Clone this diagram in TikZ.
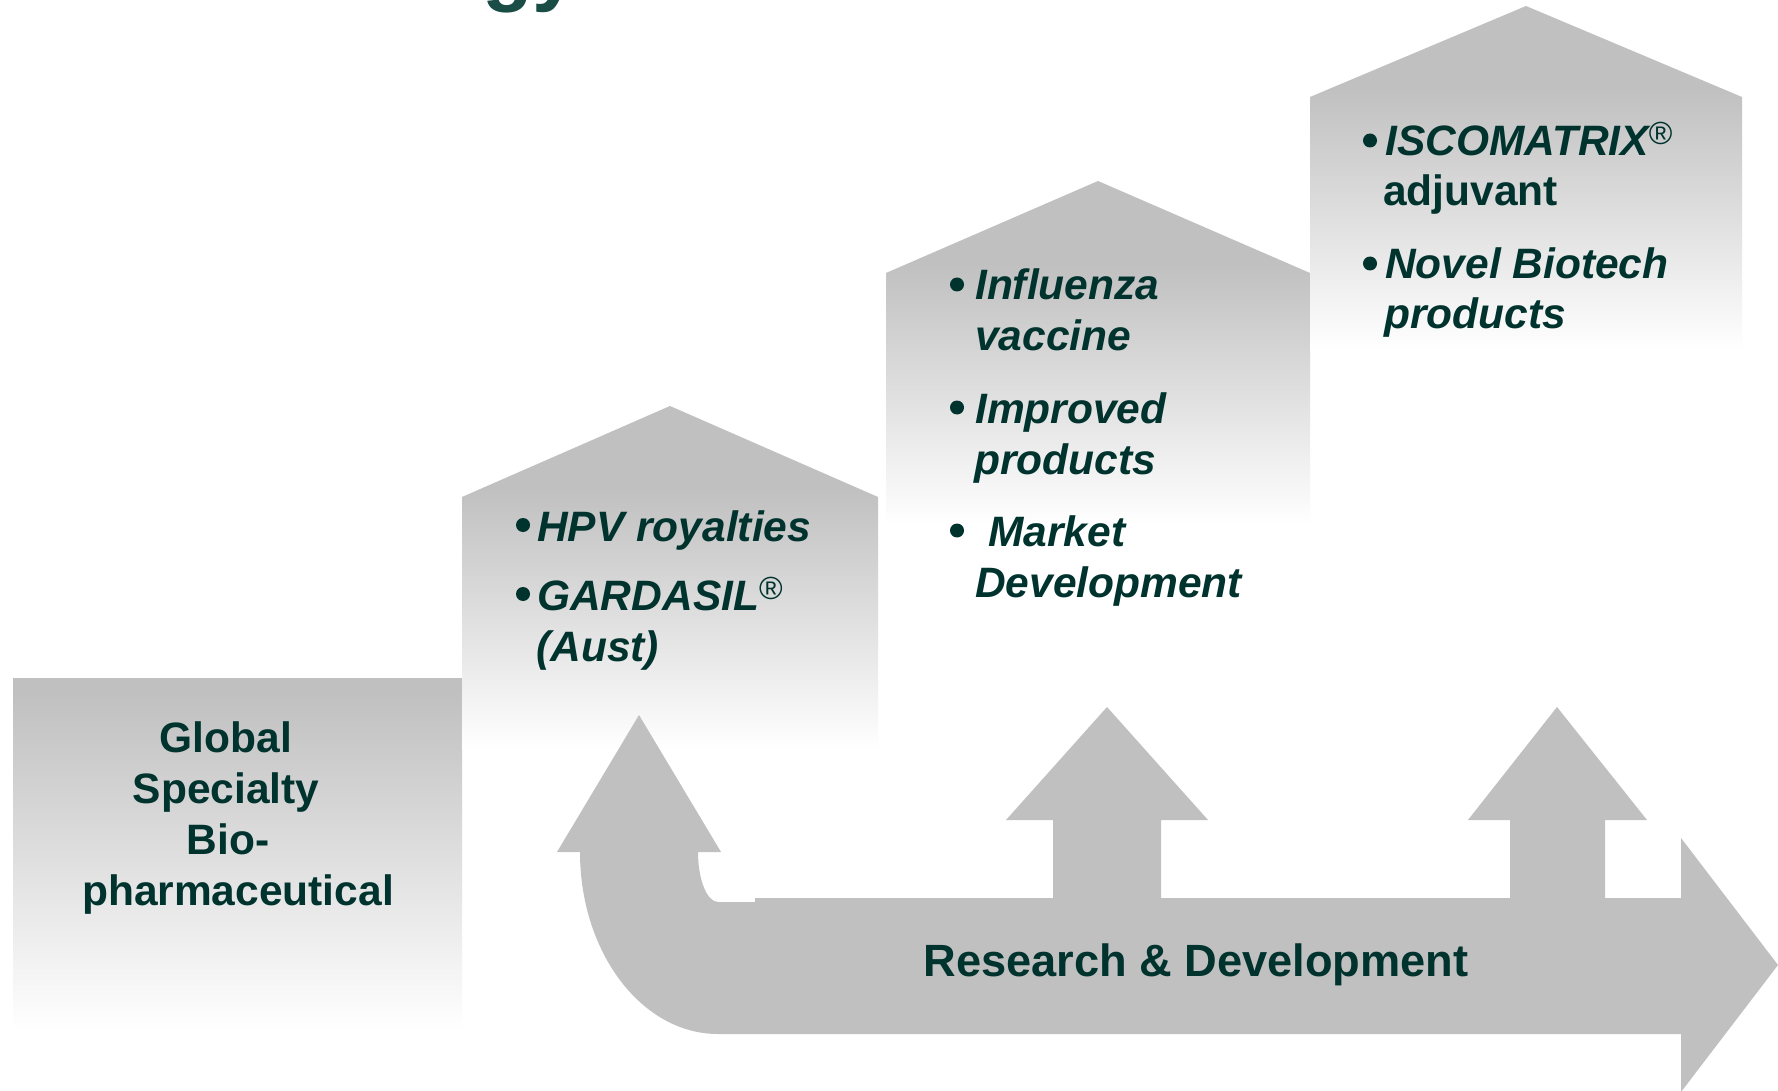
\documentclass[tikz,border=0pt]{standalone}
\usepackage{fontspec}
\setmainfont{Liberation Sans}
\definecolor{ink}{RGB}{0,51,46}
\definecolor{titleink}{RGB}{26,77,70}
\definecolor{boxgray}{RGB}{192,192,192}
% grey roof held, then a linear fade to white towards the bottom
\pgfdeclareverticalshading{stepfade}{100bp}{color(0bp)=(white); color(25bp)=(white); color(63bp)=(boxgray); color(100bp)=(boxgray)}
\pgfdeclareverticalshading{basefade}{100bp}{color(0bp)=(white); color(25bp)=(white); color(73bp)=(boxgray); color(100bp)=(boxgray)}
\newcommand\regmark{\raisebox{11pt}{\fontsize{32}{32}\selectfont\mdseries\upshape\textregistered}}
\tikzset{
  bodytext/.style={font=\fontsize{42.5}{51}\selectfont\bfseries, text=ink, inner sep=0pt, anchor=base west},
  itemtext/.style={bodytext, font=\fontsize{42.5}{51}\selectfont\bfseries\itshape},
  centretext/.style={bodytext, anchor=base},
  bulletdot/.style={circle, fill=ink, draw=none, inner sep=0pt, minimum size=14pt},
  stepbox/.style={shading=stepfade},
  basebox/.style={shading=basefade},
  rdarrow/.style={fill=boxgray, draw=none}
}
\begin{document}
\begin{tikzpicture}[x=1pt, y=-1pt]
  \useasboundingbox (0,0) rectangle (1778,1091);
  \clip (0,0) rectangle (1778,1091);
  \fill[white] (0,0) rectangle (1778,1091);

  % lower edge of the slide title
  \node[anchor=base west, inner sep=0pt, text=titleink,
        font=\fontsize{83}{83}\selectfont\bfseries] (title) at (482,-4.5) {gy};

  % stepped boxes
  \shade[basebox] (13,678) rectangle (462,1030);
  \shade[stepbox] (462,497) -- (670,406) -- (878,497) -- (878,750) -- (462,750) -- cycle;
  \shade[stepbox] (886,273) -- (1098,181) -- (1310,273) -- (1310,525) -- (886,525) -- cycle;
  \shade[stepbox] (1310,97) -- (1526,6) -- (1742,97) -- (1742,350) -- (1310,350) -- cycle;

  % research and development arrow with its three upward branches
  \fill[rdarrow] (755,898) -- (1053,898) -- (1053,820) -- (1006,820) -- (1107,707)
    -- (1208,820) -- (1161,820) -- (1161,898) -- (1510,898) -- (1510,820)
    -- (1468,820) -- (1557,707) -- (1647,820) -- (1605,820) -- (1605,898)
    -- (1681,898) -- (1681,838) -- (1778,965) -- (1681,1092) -- (1681,1034)
    -- (718,1034) .. controls (641.8,1034) and (580,952.5) .. (580,852)
    -- (557,852) -- (639,715) -- (721,852) -- (698,852)
    .. controls (698,879.6) and (707,902) .. (718,902) -- (755,902) -- cycle;

  % base box
  \node[centretext] (g1) at (226,752) {Global};
  \node[centretext] (g2) at (226,803) {Specialty};
  \node[centretext] (g3) at (228,854) {Bio-};
  \node[centretext] (g4) at (238,905) {pharmaceutical};

  % second step
  \node[bulletdot] (b2a) at (523,525) {};
  \node[itemtext] (hpv) at (537,541) {HPV royalties};
  \node[bulletdot] (b2b) at (523,594) {};
  \node[itemtext] (gard) at (537,610) {GARDASIL\regmark};
  \node[itemtext] (aust) at (536,661) {(Aust)};

  % third step
  \node[bulletdot] (b3a) at (957,284.5) {};
  \node[itemtext] (flu1) at (975,300) {Influenza};
  \node[itemtext] (flu2) at (975,351) {vaccine};
  \node[bulletdot] (b3b) at (957,407.5) {};
  \node[itemtext] (imp1) at (975,423) {Improved};
  \node[itemtext] (imp2) at (974,474) {products};
  \node[bulletdot] (b3c) at (957,530.5) {};
  \node[itemtext] (mkt1) at (988,546) {Market};
  \node[itemtext] (mkt2) at (975,597) {Development};

  % top step
  \node[bulletdot] (b4a) at (1370,140.5) {};
  \node[itemtext] (isco) at (1385,156) {ISCOMATRIX\regmark};
  \node[bodytext] (adj) at (1383,206) {adjuvant};
  \node[bulletdot] (b4b) at (1370,263.5) {};
  \node[itemtext] (nov1) at (1385,279) {Novel Biotech};
  \node[itemtext] (nov2) at (1384,329) {products};

  % arrow label
  \node[centretext, font=\fontsize{45.2}{54}\selectfont\bfseries] (rd) at (1196,976) {Research \& Development};
\end{tikzpicture}
\end{document}
